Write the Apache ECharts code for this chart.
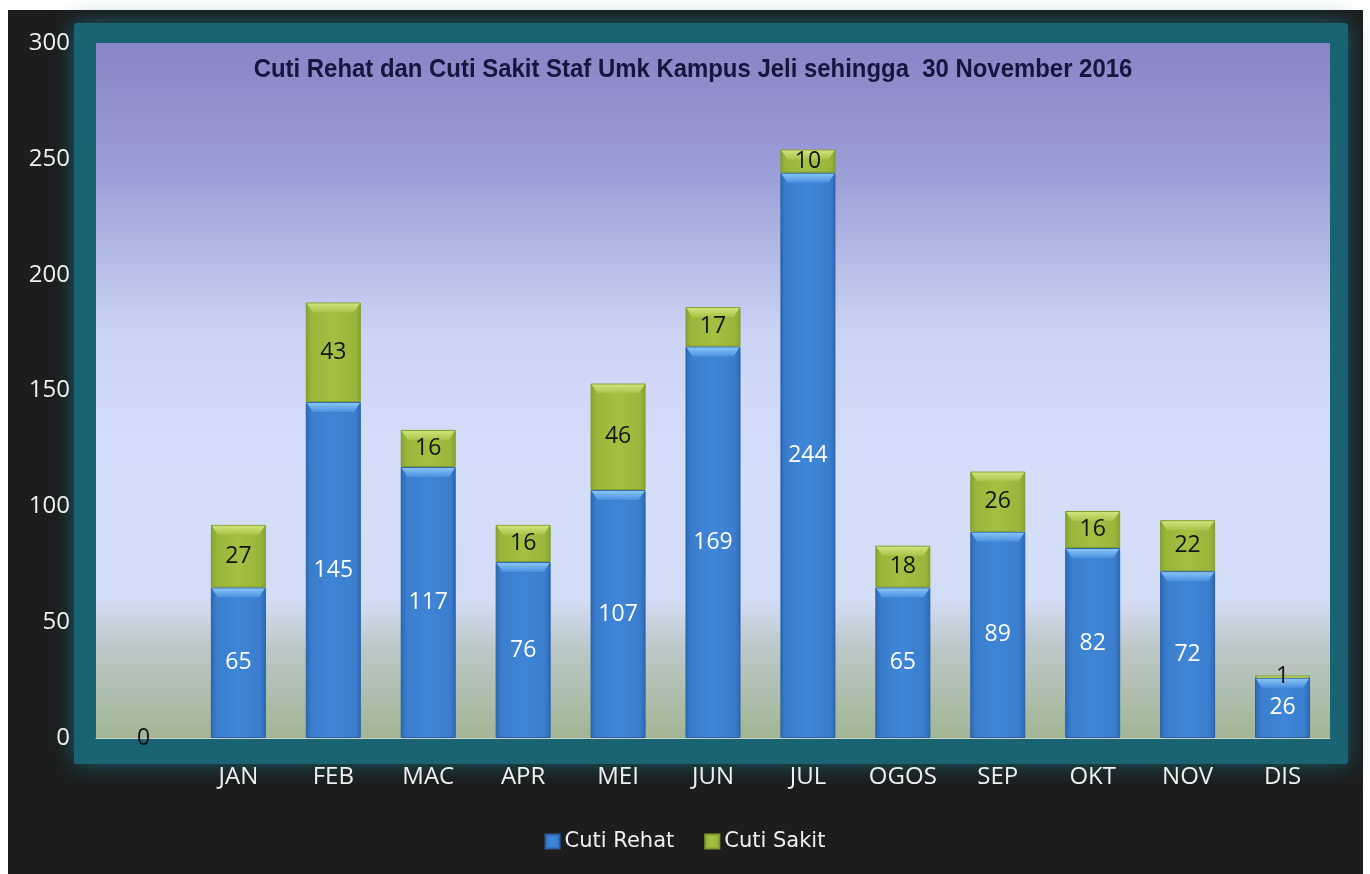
<!DOCTYPE html>
<html>
<head>
<meta charset="utf-8">
<title>Cuti Rehat dan Cuti Sakit</title>
<script src="https://cdn.jsdelivr.net/npm/echarts@6/dist/echarts.min.js"></script>
<style>
  html, body { margin: 0; padding: 0; background: #ffffff; }
  #chart { width: 1370px; height: 874px; }
</style>
</head>
<body>
<div id="chart"></div>
<script>
// Monthly leave counts, UMK Kampus Jeli, 2016
const categories = ['', 'JAN', 'FEB', 'MAC', 'APR', 'MEI', 'JUN', 'JUL', 'OGOS', 'SEP', 'OKT', 'NOV', 'DIS'];
const cutiRehat = [0, 65, 145, 117, 76, 107, 169, 244, 65, 89, 82, 72, 26];
const cutiSakit = [null, 27, 43, 16, 16, 46, 17, 10, 18, 26, 16, 22, 1];
const yTicks = { min: 0, max: 300, interval: 50 };
const chartTitle = 'Cuti Rehat dan Cuti Sakit Staf Umk Kampus Jeli sehingga  30 November 2016';

const chart = echarts.init(document.getElementById('chart'));

const BAR_W = 55;
const BEVEL_H = 10;
const BEVEL_IN = 6;
const labelFont = '"Open Sans", "DejaVu Sans", sans-serif';

const grad = (stops, horizontal) => new echarts.graphic.LinearGradient(
  0, 0, horizontal ? 1 : 0, horizontal ? 0 : 1,
  stops.map(([o, c]) => ({ offset: o, color: c }))
);

const blueFill = grad([[0, '#2c68b4'], [0.1, '#3a7dcc'], [0.5, '#3f86d8'], [0.9, '#3a7dcc'], [1, '#2c68b4']], true);
const greenFill = grad([[0, '#84a42e'], [0.1, '#98b63a'], [0.5, '#a2c042'], [0.9, '#98b63a'], [1, '#84a42e']], true);

// [category, top, base] for every stacked block: used for the top-edge highlight and the value label
const segRehat = cutiRehat.map((v, i) => [i, v, 0]);
const segSakit = cutiSakit
  .map((v, i) => [i, (cutiRehat[i] || 0) + (v || 0), cutiRehat[i] || 0, v])
  .filter(d => d[3] != null)
  .map(d => d.slice(0, 3));

function segmentRenderer(topColor, bottomColor, textColor) {
  return function (params, api) {
    const top = api.coord([api.value(0), api.value(1)]);
    const base = api.coord([api.value(0), api.value(2)]);
    const value = api.value(1) - api.value(2);
    const segH = base[1] - top[1];
    const children = [];
    if (segH > 0) {
      const h = Math.min(BEVEL_H, segH);
      const xl = top[0] - BAR_W / 2 + 1;
      const xr = top[0] + BAR_W / 2 - 1;
      const inset = BEVEL_IN * h / BEVEL_H;
      children.push({
        type: 'polygon',
        shape: { points: [[xl, top[1] + 1], [xr, top[1] + 1], [xr - inset, top[1] + h], [xl + inset, top[1] + h]] },
        style: { fill: grad([[0, topColor], [1, bottomColor]], false) }
      });
    }
    children.push({
      type: 'text',
      x: top[0],
      y: (top[1] + base[1]) / 2,
      z2: 10,
      style: {
        text: String(value),
        align: 'center', verticalAlign: 'middle',
        font: '23px ' + labelFont,
        fill: value === 0 ? '#111111' : textColor
      }
    });
    return { type: 'group', silent: true, children };
  };
}

chart.setOption({
  backgroundColor: '#ffffff',
  animation: false,
  graphic: [
    // dark frame
    { type: 'rect', z: -10, silent: true,
      shape: { x: 8, y: 10, width: 1355, height: 864 },
      style: { fill: '#1d1d1d' } },
    // teal glow behind the plot area
    { type: 'rect', z: -9, silent: true,
      shape: { x: 74, y: 23, width: 1274, height: 741, r: 3 },
      style: { fill: '#1a6373', shadowBlur: 22, shadowColor: 'rgba(26,99,115,0.9)' } },
    // condensed bold title
    { type: 'text', z: 50, silent: true,
      x: 693, y: 70, scaleX: 0.92,
      style: {
        text: chartTitle,
        align: 'center', verticalAlign: 'middle',
        font: 'bold 26px "Liberation Sans", Arial, sans-serif',
        fill: '#15163e'
      } }
  ],
  legend: {
    top: 826,
    left: 'center',
    itemWidth: 14,
    itemHeight: 14,
    itemGap: 30,
    icon: 'rect',
    textStyle: { color: '#f0f0f0', fontSize: 21, fontFamily: '"DejaVu Sans", sans-serif' },
    data: ['Cuti Rehat', 'Cuti Sakit']
  },
  grid: {
    left: 96, right: 40, top: 43, bottom: 136,
    show: true,
    borderWidth: 0,
    backgroundColor: grad([
      [0, '#8885c6'],
      [0.18, '#9a9dd6'],
      [0.42, '#ccd4f4'],
      [0.62, '#d5def9'],
      [0.8, '#d4ddf6'],
      [0.87, '#bcc8c8'],
      [1, '#a2b594']
    ], false)
  },
  xAxis: {
    type: 'category',
    data: categories,
    axisLine: { show: true, lineStyle: { color: '#c9d2c4', width: 1 } },
    axisTick: { show: false },
    axisLabel: { color: '#f0f0f0', fontSize: 24, fontFamily: labelFont, margin: 27 },
    splitLine: { show: false }
  },
  yAxis: {
    type: 'value',
    min: yTicks.min,
    max: yTicks.max,
    interval: yTicks.interval,
    axisLine: { show: false },
    axisTick: { show: false },
    splitLine: { show: false },
    axisLabel: { color: '#f0f0f0', fontSize: 24, fontFamily: labelFont, margin: 26 }
  },
  series: [
    {
      name: 'Cuti Rehat',
      type: 'bar',
      stack: 'cuti',
      barWidth: BAR_W,
      data: cutiRehat.map(v => v === 0 ? { value: v, itemStyle: { borderWidth: 0 } } : v),
      itemStyle: { color: blueFill, borderColor: '#2a5fa6', borderWidth: 1 }
    },
    {
      name: 'Cuti Sakit',
      type: 'bar',
      stack: 'cuti',
      barWidth: BAR_W,
      data: cutiSakit,
      itemStyle: { color: greenFill, borderColor: '#7f9c2c', borderWidth: 1 }
    },
    {
      name: 'rehat-top',
      type: 'custom',
      data: segRehat,
      renderItem: segmentRenderer('#88c4f7', '#4a90de', '#ffffff'),
      z: 3,
      silent: true,
      tooltip: { show: false }
    },
    {
      name: 'sakit-top',
      type: 'custom',
      data: segSakit,
      renderItem: segmentRenderer('#d0e37c', '#a8c448', '#141414'),
      z: 3,
      silent: true,
      tooltip: { show: false }
    }
  ]
});
</script>
</body>
</html>
